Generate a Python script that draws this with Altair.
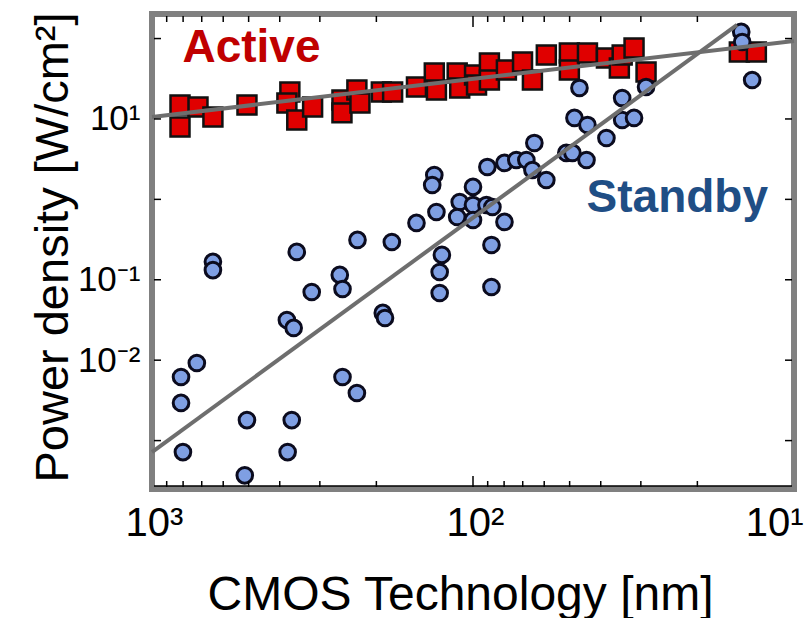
import altair as alt
import pandas as pd

# ---- data ----
active_nm = [818, 719, 818, 646, 506, 372, 380, 354, 316, 256, 256, 230, 225, 193, 178,
             150, 132, 130, 112, 110, 98.9, 97.5, 88.9, 88.9, 78.7, 70.1, 65.3, 59.1, 50.1,
             50.1, 44.0, 38.4, 35.0, 34.3, 31.5, 28.9, 14.8, 13.1]
active_pd = [14.9, 14.1, 7.95, 10.6, 14.9, 21.7, 15.8, 9.7, 14.1, 17.2, 11.9, 22.9, 15.8, 21.7, 21.7,
             25.0, 37.3, 22.9, 37.3, 24.3, 35.2, 26.5, 49.7, 30.5, 40.7, 51.2, 30.5, 62.5, 66.2,
             40.7, 66.2, 57.4, 43.1, 62.5, 76.4, 38.4, 68.1, 68.1]

standby_nm = [646, 646, 354, 318, 260, 255, 380, 362, 725, 812, 812, 506, 367, 801, 378,
              514, 255, 230, 229, 179, 150, 130, 132, 134, 100, 90.2, 79.8, 73.3, 68.2, 64.4,
              65.3, 59.1, 51.2, 110, 100, 90.8, 87.0, 112, 100, 79.8, 87.6, 125, 127, 127, 87.6,
              191, 188, 46.6, 34.3, 28.9, 48.3, 44.0, 34.3, 31.5, 38.4, 49.0, 44.3, 14.6, 14.5, 13.5]
standby_pd = [0.167, 0.132, 0.222, 0.0705, 0.115, 0.0768, 0.0316, 0.0252, 0.00923, 0.00618,
              0.00294, 0.0018, 0.0018, 0.00072, 0.00072, 0.00037, 0.00618, 0.00391, 0.313, 0.295,
              0.509, 0.697, 2.01, 1.51, 1.43, 2.53, 2.84, 3.09, 3.09, 5.03,
              2.32, 1.74, 3.78, 0.928, 0.852, 0.852, 0.804, 0.604, 0.554, 0.524,
              0.271, 0.204, 0.125, 0.0685, 0.0813, 0.0387, 0.0335, 24.3, 18.2, 25.0,
              10.3, 8.42, 9.72, 10.3, 5.80, 3.78, 3.09, 121, 90.7, 30.5]

active_fit_nm = [1000, 10]
active_fit_pd = [10.6, 93.3]
standby_fit_nm = [1000, 15.05]
standby_fit_pd = [7.2e-4, 147.6]

ann_text = ["Active", "Standby"]
ann_nm = [490, 23.1]
ann_pd = [51.2, 0.697]
ann_color = ["#c00000", "#1f4e85"]

x_label_values = [1000, 100, 10]
y_label_values = [10, 0.1, 0.01]
x_minor_ticks = [900, 800, 700, 600, 500, 400, 300, 200, 90, 80, 70, 60, 50, 40, 30, 20]
x_major_ticks = [100]
y_ticks = [100, 10, 1, 0.1, 0.01, 0.001]

W, H = 642, 475
FONT = "Liberation Sans"

xs = alt.Scale(type="log", domain=[10, 1000], reverse=True, nice=False)
ys = alt.Scale(type="log", domain=[2.5e-4, 202], nice=False)

x_axis = alt.Axis(
    values=x_label_values,
    labelExpr="datum.value >= 1000 ? '10³' : (datum.value >= 100 ? '10²' : '10¹')",
    ticks=False, tickSize=0, grid=False, domain=False,
    labelFont=FONT, labelFontSize=40, labelColor="black",
    labelPadding=46, labelBaseline="alphabetic",
    labelAlign={"condition": {"test": "datum.value <= 10", "value": "right"}, "value": "center"},
    labelOffset={"condition": {"test": "datum.value <= 10", "value": 9}, "value": 2},
    labelOverlap=False,
    title="CMOS Technology [nm]", titleFont=FONT, titleFontSize=48, titleFontWeight="normal",
    titleColor="black", titleX=308, titleY=120, titleBaseline="alphabetic", titleAlign="center",
)
y_axis = alt.Axis(
    values=y_label_values,
    labelExpr="datum.value >= 10 ? '10¹' : (datum.value >= 0.1 ? '10⁻¹' : '10⁻²')",
    ticks=False, tickSize=0, grid=False, domain=False,
    labelFont=FONT, labelFontSize=35, labelColor="black", labelPadding=12,
    labelOverlap=False,
    title="Power density [W/cm²]", titleFont=FONT, titleFontSize=47, titleFontWeight="normal",
    titleColor="black", titleX=-85, titleY=233, titleAngle=270,
    titleBaseline="alphabetic", titleAlign="center",
)

X = alt.X("nm:Q", scale=xs, axis=x_axis)
Y = alt.Y("pd:Q", scale=ys, axis=y_axis)

active_df = pd.DataFrame({"nm": active_nm, "pd": active_pd})
standby_df = pd.DataFrame({"nm": standby_nm, "pd": standby_pd})
afit_df = pd.DataFrame({"nm": active_fit_nm, "pd": active_fit_pd})
sfit_df = pd.DataFrame({"nm": standby_fit_nm, "pd": standby_fit_pd})
ann_df = pd.DataFrame({"nm": ann_nm, "pd": ann_pd, "label": ann_text, "color": ann_color})
xminor_df = pd.DataFrame({"nm": x_minor_ticks})
xmajor_df = pd.DataFrame({"nm": x_major_ticks})
yt_df = pd.DataFrame({"pd": y_ticks})

squares = alt.Chart(active_df).mark_point(
    shape="square", filled=True, fill="#e00000", stroke="#111111", strokeWidth=2.5, size=360, opacity=1
).encode(x=X, y=Y)

circles = alt.Chart(standby_df).mark_point(
    shape="circle", filled=True, fill="#7f9fe3", stroke="#0b0b1e", strokeWidth=3, size=245, opacity=1
).encode(x=X, y=Y)

afit = alt.Chart(afit_df).mark_line(color="#6e6e6e", strokeWidth=4).encode(x=X, y=Y)
sfit = alt.Chart(sfit_df).mark_line(color="#6e6e6e", strokeWidth=4).encode(x=X, y=Y)

ann = alt.Chart(ann_df).mark_text(
    font=FONT, fontSize=46, fontWeight="bold", align="center", baseline="alphabetic"
).encode(x=X, y=Y, text="label:N", color=alt.Color("color:N", scale=None))

tick_style = dict(color="black", strokeWidth=1.5)
xminor_bot = alt.Chart(xminor_df).mark_rule(**tick_style).encode(
    x=X, y=alt.value(H - 2), y2=alt.value(H - 8))
xmajor_bot = alt.Chart(xmajor_df).mark_rule(**tick_style).encode(
    x=X, y=alt.value(H - 2), y2=alt.value(H - 13))
xminor_top = alt.Chart(xminor_df).mark_rule(**tick_style).encode(
    x=X, y=alt.value(2), y2=alt.value(8))
xmajor_top = alt.Chart(xmajor_df).mark_rule(**tick_style).encode(
    x=X, y=alt.value(2), y2=alt.value(13))
y_left = alt.Chart(yt_df).mark_rule(**tick_style).encode(
    y=Y, x=alt.value(2), x2=alt.value(9))
y_right = alt.Chart(yt_df).mark_rule(**tick_style).encode(
    y=Y, x=alt.value(W - 2), x2=alt.value(W - 9))
bottom_line = alt.Chart(xmajor_df).mark_rule(color="black", strokeWidth=1.5).encode(
    x=alt.value(2), x2=alt.value(W - 2), y=alt.value(H - 3))

chart = alt.layer(
    squares, circles, afit, sfit, ann,
    xminor_bot, xmajor_bot, xminor_top, xmajor_top, y_left, y_right, bottom_line
).properties(
    width=W, height=H,
    autosize=alt.AutoSizeParams(type="none"),
    padding={"left": 144, "top": 6, "right": 10, "bottom": 129},
    background="white",
).configure_view(stroke="#808080", strokeWidth=6)

chart.save("out.html", embed_options={"renderer": "svg", "actions": False})
